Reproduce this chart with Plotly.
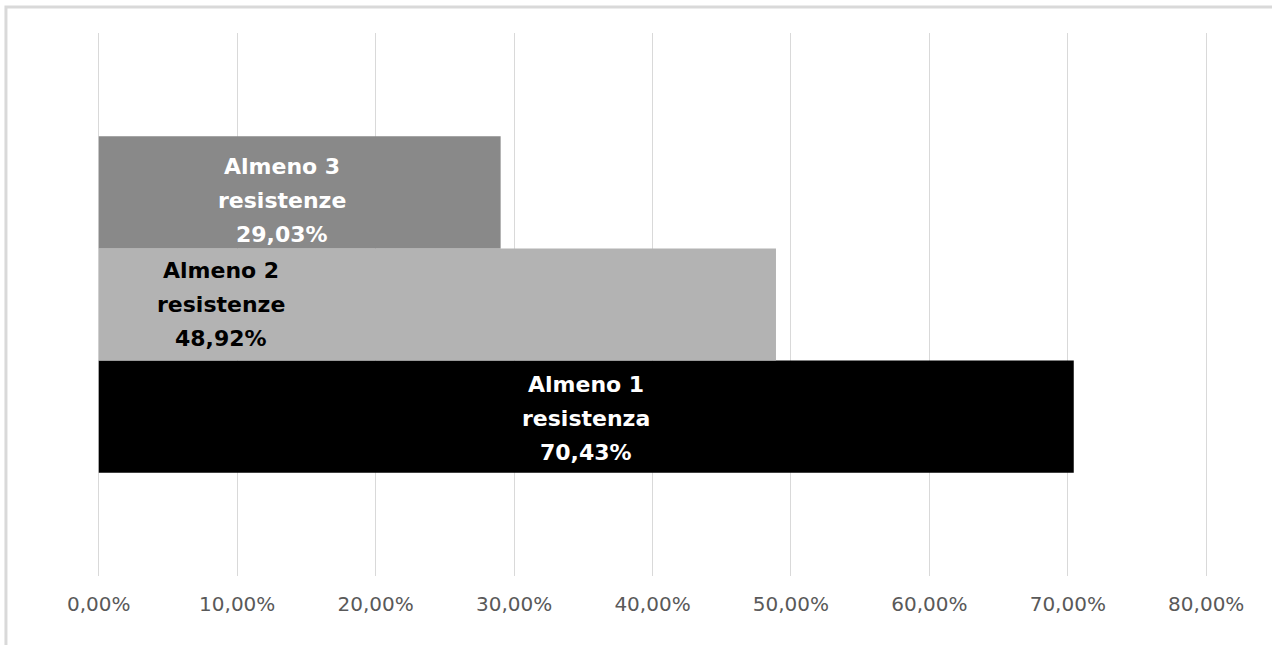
import plotly.graph_objects as go

# ---- data ----
series_names = ["Almeno 1<br>resistenza", "Almeno 2<br>resistenze", "Almeno 3<br>resistenze"]
series_values = [0.7043, 0.4892, 0.2903]
series_colors = ["#000000", "#b3b3b3", "#898989"]
label_colors = ["#ffffff", "#000000", "#ffffff"]
label_x_frac = [0.50, 0.18, 0.455]   # horizontal position of label inside each bar
label_y_shift = [-2, 0, -8]          # pixel nudge of each label block
tick_values = [0, 0.1, 0.2, 0.3, 0.4, 0.5, 0.6, 0.7, 0.8]
category = ["Totale"]

BARGAP = 0.38
fig = go.Figure()
for name, val, col in zip(series_names, series_values, series_colors):
    fig.add_trace(go.Bar(
        y=category, x=[val], orientation="h", name=name,
        marker=dict(color=col, line=dict(width=0)),
        hoverinfo="skip", showlegend=False,
    ))

# labels (one annotation per line, like Excel's multi-line data label)
bar_w = (1 - BARGAP) / len(series_values)
n = len(series_values)
for i, (name, val) in enumerate(zip(series_names, series_values)):
    ypos = (i - (n - 1) / 2) * bar_w
    pct = f"{val*100:.2f}".replace(".", ",") + "%"
    lines = name.split("<br>") + [pct]
    for j, line in enumerate(lines):
        fig.add_annotation(
            x=val * label_x_frac[i], y=ypos, xref="x", yref="y",
            text=f"<b>{line}</b>", showarrow=False,
            yshift=(1 - j) * 34 + label_y_shift[i],
            font=dict(family="DejaVu Sans", size=22, color=label_colors[i]),
            xanchor="center", yanchor="middle",
        )

# outer chart border (cropped: visible only on top and left)
fig.add_shape(type="path", xref="paper", yref="paper",
              path="M -0.0809,-0.3 L -0.0809,1.048 L 1.2,1.048",
              line=dict(color="#d9d9d9", width=3))

fig.update_layout(
    width=1272, height=645,
    margin=dict(l=96, r=63, t=33, b=69),
    paper_bgcolor="white", plot_bgcolor="white",
    barmode="group", bargap=BARGAP, bargroupgap=0,
    separators=",.",
    xaxis=dict(
        range=[-0.002, 0.802], tickvals=tick_values, tickformat=".2%",
        showgrid=True, gridcolor="#d9d9d9", gridwidth=1,
        zeroline=False, showline=False,
        tickfont=dict(family="DejaVu Sans", size=20, color="#595959"),
        ticks="outside", ticklen=10, tickcolor="rgba(0,0,0,0)",
    ),
    yaxis=dict(
        type="category", range=[-0.5, 0.5], showticklabels=False,
        showgrid=False, zeroline=False, showline=False,
    ),
)

fig.write_html("out.html", config={"displayModeBar": False},
               post_script="document.body.style.margin='0';")
